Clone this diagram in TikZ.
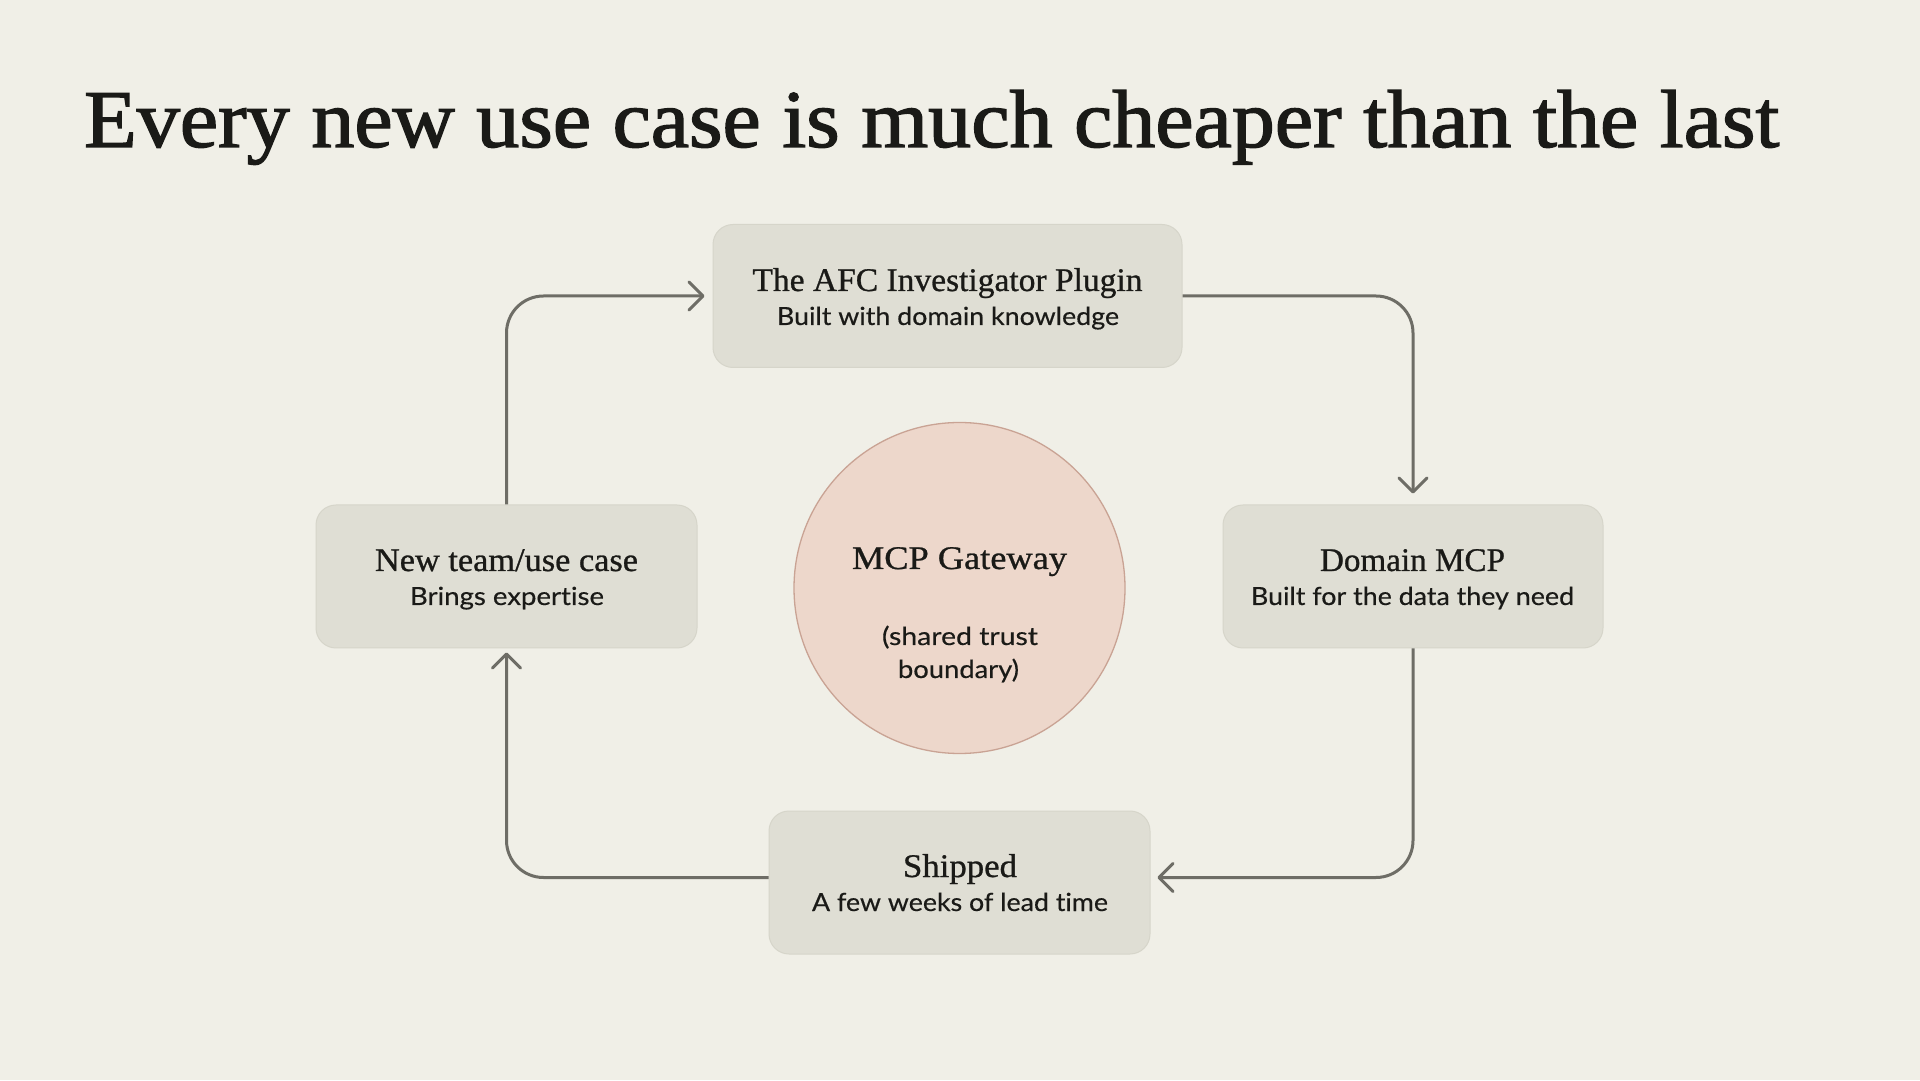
\documentclass[tikz,border=0pt]{standalone}
\usepackage{fontspec}
\usepackage{graphicx}
\setmainfont{Liberation Serif}
\newfontfamily\titlef[FakeBold=1.6]{Liberation Serif}
\newfontfamily\headf[FakeBold=0.8]{Liberation Serif}
\newfontfamily\sansf[Ligatures=NoCommon,FakeBold=0.4]{Lato}
\usetikzlibrary{arrows.meta,calc}
\definecolor{bgc}{HTML}{F0EFE7}
\definecolor{boxc}{HTML}{DFDED4}
\definecolor{boxline}{HTML}{D6D5CA}
\definecolor{circc}{HTML}{EDD7CB}
\definecolor{circline}{HTML}{C9A394}
\definecolor{arrc}{HTML}{6E6D66}
\definecolor{inkc}{HTML}{1A1A17}
\newlength\myfitlen
\newcommand\myfit[2]{\settowidth\myfitlen{#2}\pgfmathsetmacro\myfitr{#1/\myfitlen}\scalebox{\myfitr}[1]{#2}}
\tikzset{
  stagebox/.style={rectangle, rounded corners=20pt, fill=boxc, draw=boxline, line width=1pt, minimum height=143pt, inner sep=0pt},
  hubcirc/.style={circle, fill=circc, draw=circline, line width=1.3pt, minimum size=331pt, inner sep=0pt},
  ttl/.style={anchor=base, inner sep=0pt, text=inkc, font=\headf\fontsize{33}{40}\selectfont},
  sub/.style={anchor=base, inner sep=0pt, text=inkc, font=\sansf\fontsize{25}{30}\selectfont},
  flow/.style={draw=arrc, line width=3pt, rounded corners=37pt, -{Straight Barb[length=14pt,width=28pt,line cap=round,line join=round]}}
}
\begin{document}
\begin{tikzpicture}[x=1pt,y=1pt]
\useasboundingbox (0,0) rectangle (1920,1080);
\fill[bgc] (0,0) rectangle (1920,1080);

\node[anchor=base west, inner sep=0pt, text=inkc, font=\titlef\fontsize{82}{90}\selectfont] (title) at (84,933) {\myfit{1695}{Every new use case is much cheaper than the last}};

% boxes
\node[stagebox, minimum width=469pt] (afc) at (947.5,784) {};
\node[stagebox, minimum width=381pt] (newt) at (506.5,503.5) {};
\node[stagebox, minimum width=380pt] (dom) at (1413,503.5) {};
\node[stagebox, minimum width=381pt] (ship) at (959.5,197.5) {};
\node[hubcirc] (hub) at (959.5,492) {};

% texts
\node[ttl] (afcT) at (947.5,789) {\myfit{390}{The AFC Investigator Plugin}};
\node[sub] (afcS) at (948,755) {\myfit{342}{Built with domain knowledge}};
\node[ttl] (newtT) at (506.5,509) {\myfit{263}{New team/use case}};
\node[sub] (newtS) at (507,475) {\myfit{194}{Brings expertise}};
\node[ttl] (domT) at (1412.5,509) {\myfit{185}{Domain MCP}};
\node[sub] (domS) at (1412.5,475) {\myfit{323}{Built for the data they need}};
\node[ttl] (shipT) at (960,203) {\myfit{114}{Shipped}};
\node[sub] (shipS) at (960,169) {\myfit{296}{A few weeks of lead time}};
\node[ttl] (hubT) at (959.5,511) {\myfit{215}{MCP Gateway}};
\node[sub] (hubS1) at (960,435) {\myfit{156}{(shared trust}};
\node[sub] (hubS2) at (958.5,402) {\myfit{121}{boundary)}};

% connectors
\draw[flow, shorten >=11pt] (afc.east) -| (dom.north);
\draw[flow, shorten >=7pt] (dom.south) |- ([yshift=5pt]ship.east);
\draw[flow, shorten >=4pt] ([yshift=5pt]ship.west) -| (newt.south);
\draw[flow, shorten >=8pt] (newt.north) |- (afc.west);
\end{tikzpicture}
\end{document}
